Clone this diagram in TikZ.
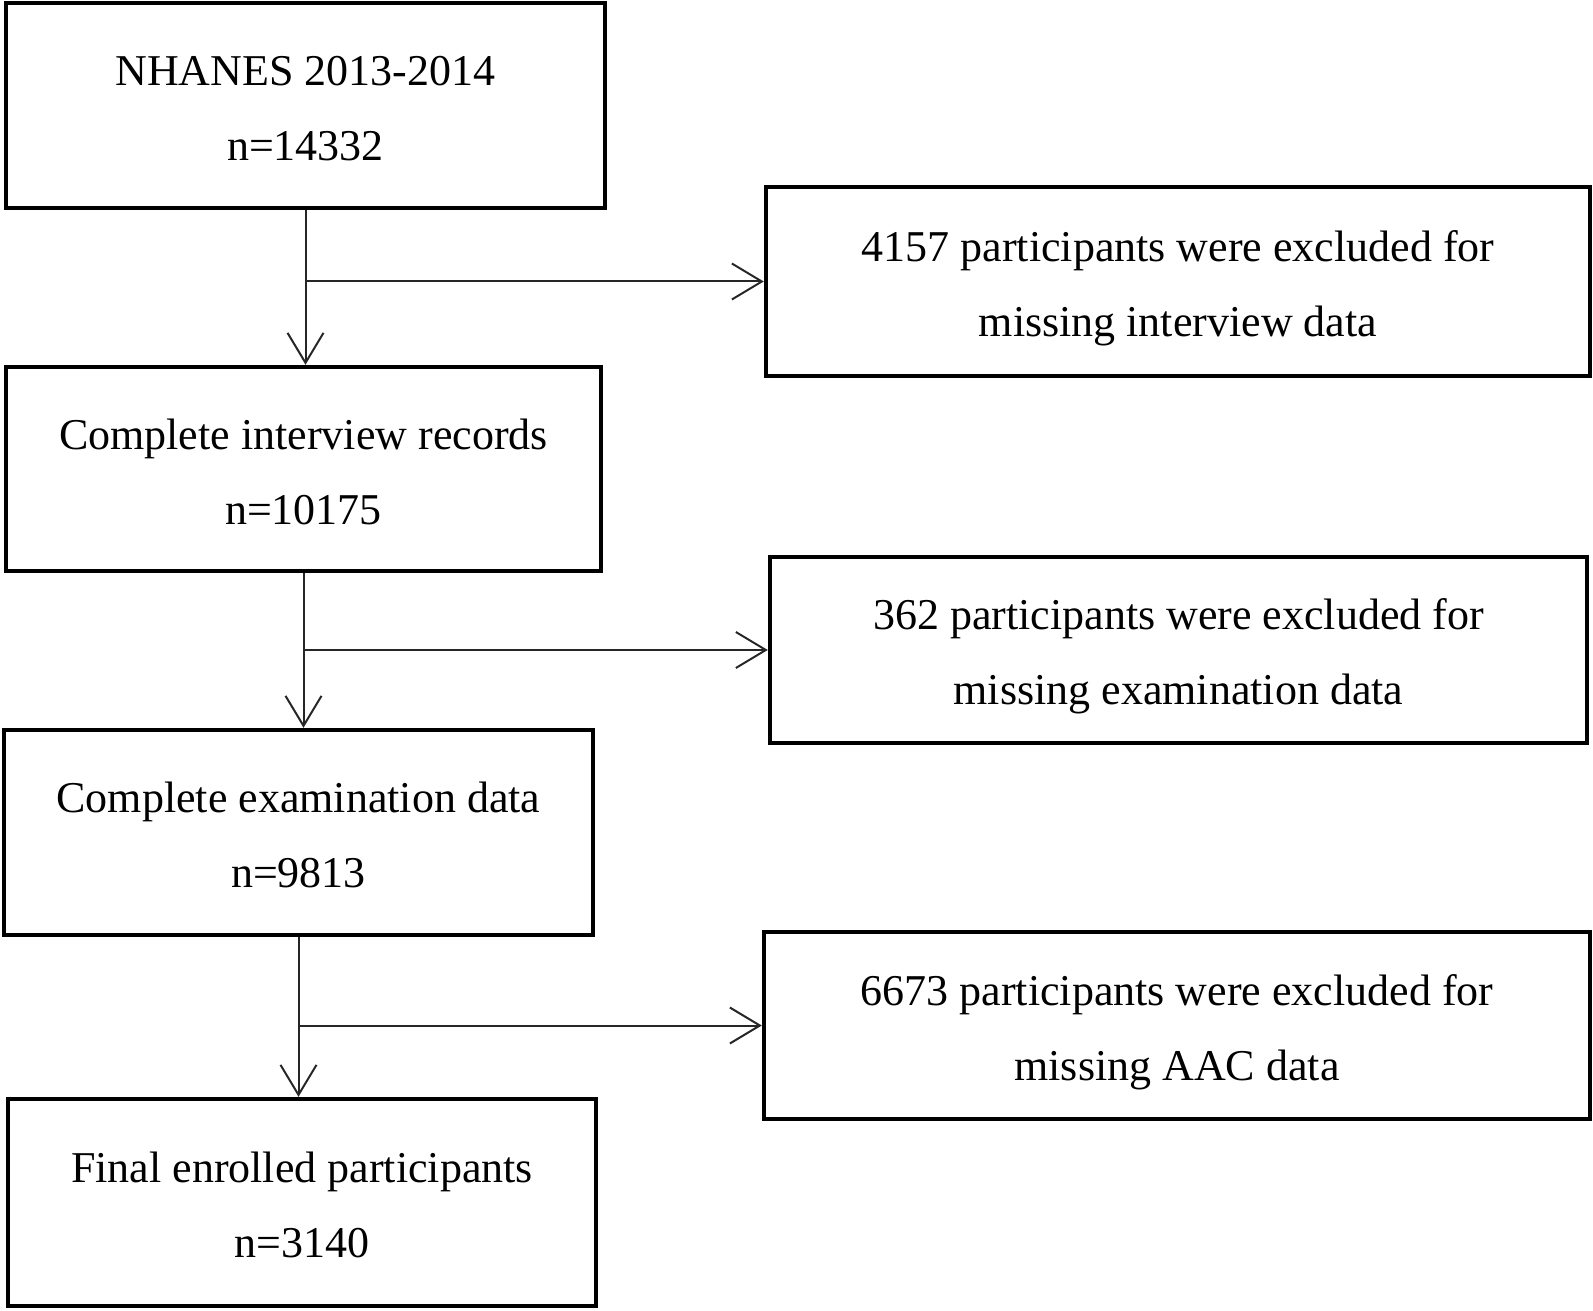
\documentclass[tikz,border=0pt]{standalone}
\usepackage{fontspec}
\setmainfont{Liberation Serif}
\usetikzlibrary{arrows.meta}
\newcommand{\toplift}[1]{\rule{0pt}{#1}}
\begin{document}
\begin{tikzpicture}[x=0.5pt,y=-0.5pt,
  boxnode/.style={draw=black,line width=2.2pt,rectangle,inner sep=0pt,align=center,
    font=\fontsize{22pt}{37.5pt}\selectfont},
  arr/.style={draw=black!85,line width=1pt,-{Straight Barb[length=15pt,width=18pt,line width=1pt]}}]
\useasboundingbox (0,0) rectangle (1593,1310);
\node[boxnode,minimum width=299.5pt,minimum height=102.5pt] (A) at (305.5,105.5) {\toplift{18pt}NHANES 2013-2014\\n=14332};
\node[boxnode,minimum width=412pt,minimum height=94.5pt] (R1) at (1178,281.5) {\toplift{22pt}4157 participants were excluded for\\missing interview data};
\node[boxnode,minimum width=297.5pt,minimum height=102pt] (B) at (303.5,469) {\toplift{18pt}Complete interview records\\n=10175};
\node[boxnode,minimum width=408.5pt,minimum height=93pt] (R2) at (1178.5,650) {\toplift{22pt}362 participants were excluded for\\missing examination data};
\node[boxnode,minimum width=294.5pt,minimum height=102.5pt] (C) at (298.5,832.5) {\toplift{18pt}Complete examination data\\n=9813};
\node[boxnode,minimum width=413pt,minimum height=93.5pt] (R3) at (1177,1025.5) {\toplift{22pt}6673 participants were excluded for\\missing AAC data};
\node[boxnode,minimum width=294pt,minimum height=103.5pt] (D) at (302,1202.5) {\toplift{18pt}Final enrolled participants\\n=3140};
\draw[arr] (A.south) -- (A.south |- B.north);
\coordinate (b1) at (A.south |- R1.west);
\draw[arr] (b1) -- (R1.west);
\draw[arr] (B.south) -- (B.south |- C.north);
\coordinate (b2) at (B.south |- R2.west);
\draw[arr] (b2) -- (R2.west);
\draw[arr] (C.south) -- (C.south |- D.north);
\coordinate (b3) at (C.south |- R3.west);
\draw[arr] (b3) -- (R3.west);
\end{tikzpicture}
\end{document}
